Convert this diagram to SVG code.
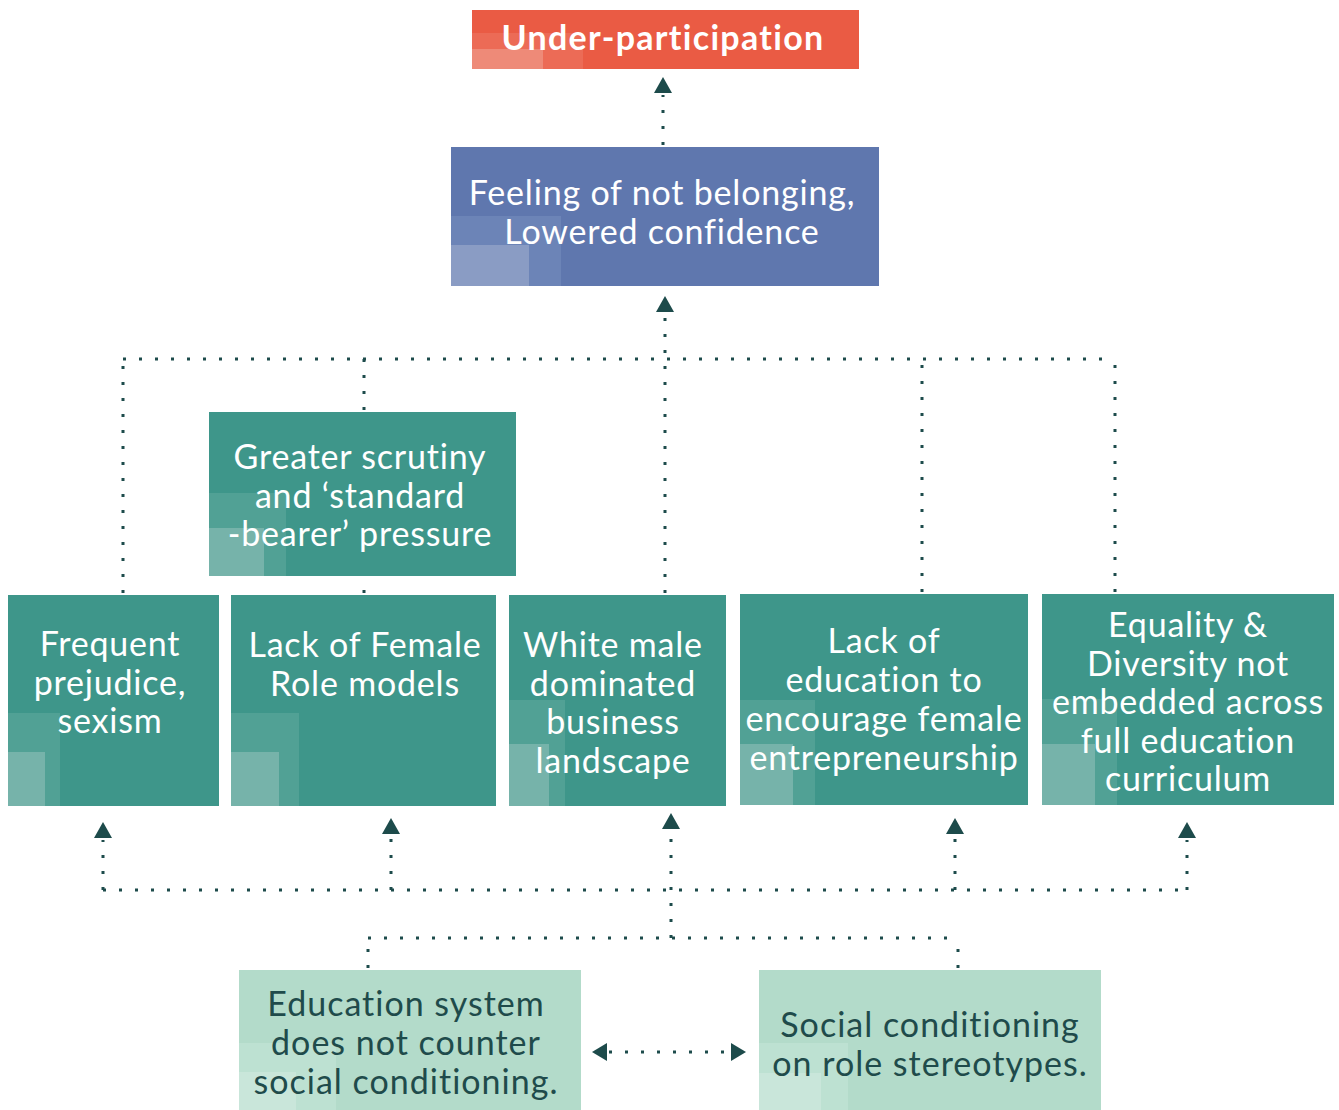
<svg xmlns="http://www.w3.org/2000/svg" width="1339" height="1110" viewBox="0 0 1339 1110">
<style>
.t{font-family:Lato,"Open Sans","Liberation Sans",sans-serif;font-size:34px;letter-spacing:0.8px;fill:#ffffff;text-anchor:middle}
.b{font-family:Lato,"Open Sans","Liberation Sans",sans-serif;font-size:34px;letter-spacing:1px;fill:#1f4b4b;text-anchor:middle}
.teal{fill:#3e968a}
.tealA{fill:#51a195}
.tealB{fill:#76b3aa}
.mint{fill:#b3dbca}
.mintA{fill:#bde1d2}
.mintB{fill:#c9e6da}
.dot{stroke:#1d4b4b;stroke-width:3;stroke-dasharray:3 13;fill:none}
.ah{fill:#1d4b4b}
</style>
<g id="under-participation">
<rect x="472" y="10" width="387" height="59" fill="#ea5b44"/>
<rect x="472" y="33" width="111" height="36" fill="#ec6b56"/>
<rect x="472" y="49" width="71" height="20" fill="#ee8a78"/>
<text class="t" x="663" y="50" style="font-weight:bold;font-size:34px;letter-spacing:1.3px">Under-participation</text>
</g>
<g id="feeling">
<rect x="451" y="147" width="428" height="139" fill="#5f77ae"/>
<rect x="451" y="216" width="110" height="70" fill="#6c84b7"/>
<rect x="451" y="245" width="78" height="41" fill="#8a9cc4"/>
<text class="t" x="662" y="205">Feeling of not belonging,</text>
<text class="t" x="662" y="244">Lowered confidence</text>
</g>
<g id="scrutiny">
<rect class="teal" x="209" y="412" width="307" height="164"/>
<rect class="tealA" x="209" y="493" width="77" height="83"/>
<rect class="tealB" x="209" y="528" width="55" height="48"/>
<text class="t" x="360" y="469">Greater scrutiny</text>
<text class="t" x="360" y="508">and ‘standard</text>
<text class="t" x="360" y="546">-bearer’ pressure</text>
</g>
<g id="prejudice">
<rect class="teal" x="8" y="595" width="211" height="211"/>
<rect class="tealA" x="8" y="713" width="52" height="93"/>
<rect class="tealB" x="8" y="752" width="37" height="54"/>
<text class="t" x="110" y="656">Frequent</text>
<text class="t" x="110" y="695">prejudice,</text>
<text class="t" x="110" y="733">sexism</text>
</g>
<g id="role-models">
<rect class="teal" x="231" y="595" width="265" height="211"/>
<rect class="tealA" x="231" y="713" width="68" height="93"/>
<rect class="tealB" x="231" y="752" width="48" height="54"/>
<text class="t" x="365" y="657">Lack of Female</text>
<text class="t" x="365" y="696">Role models</text>
</g>
<g id="white-male">
<rect class="teal" x="509" y="595" width="217" height="211"/>
<rect class="tealA" x="509" y="700" width="56" height="106"/>
<rect class="tealB" x="509" y="744" width="40" height="62"/>
<text class="t" x="613" y="657">White male</text>
<text class="t" x="613" y="696">dominated</text>
<text class="t" x="613" y="734">business</text>
<text class="t" x="613" y="773">landscape</text>
</g>
<g id="lack-education">
<rect class="teal" x="740" y="594" width="288" height="211"/>
<rect class="tealA" x="740" y="700" width="75" height="105"/>
<rect class="tealB" x="740" y="744" width="53" height="61"/>
<text class="t" x="884" y="653">Lack of</text>
<text class="t" x="884" y="692">education to</text>
<text class="t" x="884" y="731">encourage female</text>
<text class="t" x="884" y="770">entrepreneurship</text>
</g>
<g id="equality">
<rect class="teal" x="1042" y="594" width="292" height="211"/>
<rect class="tealA" x="1042" y="699" width="75" height="106"/>
<rect class="tealB" x="1042" y="744" width="53" height="61"/>
<text class="t" x="1188" y="637">Equality &amp;</text>
<text class="t" x="1188" y="676">Diversity not</text>
<text class="t" x="1188" y="714">embedded across</text>
<text class="t" x="1188" y="753">full education</text>
<text class="t" x="1188" y="791">curriculum</text>
</g>
<g id="education-system">
<rect class="mint" x="239" y="970" width="342" height="140"/>
<rect class="mintA" x="239" y="1043" width="97" height="67"/>
<rect class="mintB" x="239" y="1072" width="57" height="38"/>
<text class="b" x="406" y="1016">Education system</text>
<text class="b" x="406" y="1055">does not counter</text>
<text class="b" x="406" y="1094">social conditioning.</text>
</g>
<g id="social-conditioning">
<rect class="mint" x="759" y="970" width="342" height="140"/>
<rect class="mintA" x="759" y="1043" width="89" height="67"/>
<rect class="mintB" x="759" y="1073" width="62" height="37"/>
<text class="b" x="930" y="1037">Social conditioning</text>
<text class="b" x="930" y="1076">on role stereotypes.</text>
</g>
<g id="connectors">
<path class="dot" d="M663 145V95"/>
<polygon class="ah" points="654,93 672,93 663,77"/>
<path class="dot" d="M665 593V314"/>
<polygon class="ah" points="656,312 674,312 665,296"/>
<path class="dot" d="M123 359H1115"/>
<path class="dot" d="M123 593V359"/>
<path class="dot" d="M364 410V359"/>
<path class="dot" d="M364 593V578"/>
<path class="dot" d="M922 592V359"/>
<path class="dot" d="M1115 592V359"/>
<path class="dot" d="M103 890H1187"/>
<path class="dot" d="M103 890V840"/>
<polygon class="ah" points="94,838 112,838 103,822"/>
<path class="dot" d="M391 890V836"/>
<polygon class="ah" points="382,834 400,834 391,818"/>
<path class="dot" d="M671 938V831"/>
<polygon class="ah" points="662,829 680,829 671,813"/>
<path class="dot" d="M955 890V836"/>
<polygon class="ah" points="946,834 964,834 955,818"/>
<path class="dot" d="M1187 890V840"/>
<polygon class="ah" points="1178,838 1196,838 1187,822"/>
<path class="dot" d="M368 938H958"/>
<path class="dot" d="M368 968V938"/>
<path class="dot" d="M958 968V938"/>
<path class="dot" d="M609 1052H729"/>
<polygon class="ah" points="592,1052 607,1043 607,1061"/>
<polygon class="ah" points="746,1052 731,1043 731,1061"/>
</g>
</svg>
